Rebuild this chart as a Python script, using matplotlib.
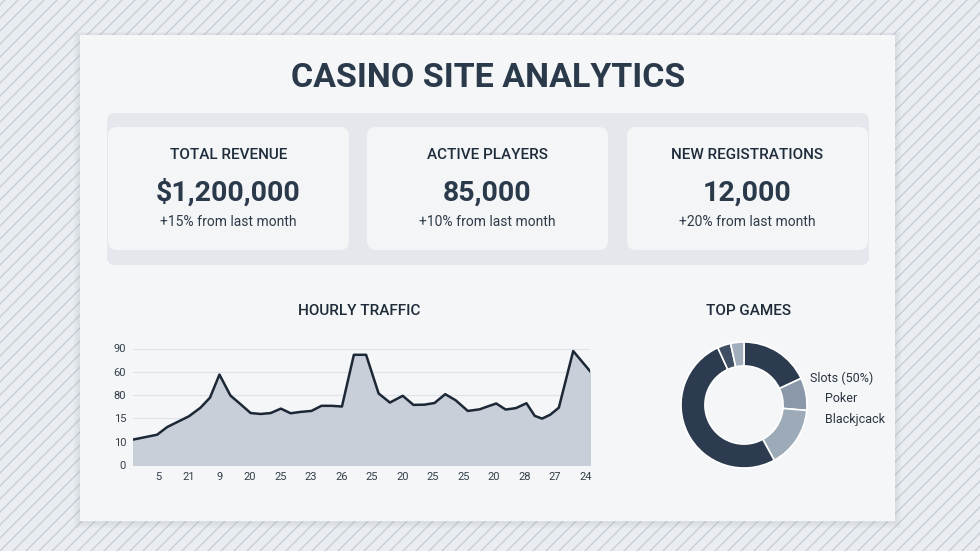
import matplotlib.pyplot as plt
from matplotlib.patches import FancyBboxPatch, Rectangle

plt.rcParams['font.family'] = ['Roboto', 'DejaVu Sans']

# ---- data ----
kpi_titles = ['TOTAL REVENUE', 'ACTIVE PLAYERS', 'NEW REGISTRATIONS']
kpi_values = ['$1,200,000', '85,000', '12,000']
kpi_changes = ['+15% from last month', '+10% from last month', '+20% from last month']

# traffic (x in tick units, y in grid-step units)
traffic_x = [0.18, 0.97, 1.30, 2.01, 2.39, 2.70, 3.01, 3.37, 3.70, 4.03, 4.36, 4.69,
             5.02, 5.34, 5.67, 6.02, 6.35, 6.68, 7.02, 7.41, 7.81, 8.22, 8.59, 9.01,
             9.36, 9.72, 10.05, 10.40, 10.74, 11.14, 11.53, 11.74, 12.07, 12.38,
             12.71, 13.06, 13.33, 13.57, 13.84, 14.12, 14.59, 15.14]
traffic_y = [1.09, 1.30, 1.63, 2.09, 2.46, 2.89, 3.88, 2.98, 2.61, 2.23, 2.19, 2.23,
             2.42, 2.22, 2.28, 2.32, 2.54, 2.54, 2.51, 4.73, 4.73, 3.07, 2.68, 2.97,
             2.58, 2.59, 2.66, 3.04, 2.78, 2.32, 2.39, 2.49, 2.64, 2.38, 2.44, 2.65,
             2.11, 1.99, 2.16, 2.46, 4.89, 4.03]
x_ticklabels = ['5', '21', '9', '20', '25', '23', '26', '25', '20', '25', '25', '20', '28', '27', '24']
y_ticklabels = ['0', '10', '15', '80', '60', '90']

game_shares = [18, 8.3, 15.6, 51, 3.4, 3.4]
game_colors = ['#2c3b4f', '#8a98a9', '#9dabb9', '#2c3b4f', '#3f4e62', '#a2aebb']
game_labels = ['Slots (50%)', 'Poker', 'Blackjcack']

W, H = 980, 551
fig = plt.figure(figsize=(W / 100, H / 100), dpi=100)

# ---- background / card (pixel coords) ----
bg = fig.add_axes([0, 0, 1, 1])
bg.set_xlim(0, W)
bg.set_ylim(H, 0)
bg.axis('off')
bg.add_patch(Rectangle((0, 0), W, H, color='#e9ecf0', zorder=0))
for k in range(-60, 90):
    x0 = k * 13
    bg.plot([x0, x0 + H], [H, 0], color='#c7ccd4', lw=0.9, zorder=1)

# shadow + card
for i, a in enumerate([0.05, 0.05, 0.05]):
    bg.add_patch(Rectangle((80 - 2 - i * 2, 35 - 1 - i), 815 + 4 + i * 4, 486 + 4 + i * 3,
                           color='#8a94a0', alpha=a, lw=0, zorder=2))
bg.add_patch(Rectangle((80, 35), 815, 486, color='#f4f6f8', lw=0, zorder=3))

bg.text(488, 78, 'CASINO SITE ANALYTICS', ha='center', va='center', fontsize=24.5,
        fontweight='bold', color='#2b3a4b', zorder=5)

# KPI panel
bg.add_patch(FancyBboxPatch((107, 113), 762, 152, boxstyle='round,pad=0,rounding_size=8',
                            fc='#e4e8ec', ec='none', zorder=4))
card_x = [108, 367, 627]
for i in range(3):
    bg.add_patch(FancyBboxPatch((card_x[i], 127), 241, 123,
                                boxstyle='round,pad=0,rounding_size=9',
                                fc='#f3f5f7', ec='none', zorder=5))
    cx = card_x[i] + 120.5
    bg.text(cx, 155, kpi_titles[i], ha='center', va='center', fontsize=11,
            fontweight='medium', color='#1f2c3b', zorder=6)
    bg.text(cx, 193, kpi_values[i], ha='center', va='center', fontsize=20.5,
            fontweight='bold', color='#2b3a4b', zorder=6)
    bg.text(cx, 222, kpi_changes[i], ha='center', va='center', fontsize=10,
            color='#2f3b48', zorder=6)

bg.text(359, 311, 'HOURLY TRAFFIC', ha='center', va='center', fontsize=11,
        fontweight='medium', color='#1f2b38', zorder=6)
bg.text(749, 311, 'TOP GAMES', ha='center', va='center', fontsize=11,
        fontweight='medium', color='#1f2b38', zorder=6)

label_pos = [(810, 378), (825, 399), (825, 420)]
for lab, (lx, ly) in zip(game_labels, label_pos):
    bg.text(lx, ly, lab, ha='left', va='center', fontsize=9, color='#2b3440', zorder=6)

# ---- hourly traffic ----
ax = fig.add_axes([133 / W, (H - 465) / H, (590 - 133) / W, 5.1 * 23.3 / H])
ax.set_facecolor('none')
ax.fill_between(traffic_x, traffic_y, 0, color='#c8cfd8', zorder=2)
ax.plot(traffic_x, traffic_y, color='#1c2836', lw=1.8, zorder=3)
ax.set_xlim(traffic_x[0], traffic_x[-1])
ax.set_ylim(0, 5.1)
ax.set_yticks(range(len(y_ticklabels)))
ax.set_yticklabels(y_ticklabels)
ax.set_xticks(range(1, len(x_ticklabels) + 1))
ax.set_xticklabels(x_ticklabels)
ax.tick_params(length=0, labelsize=8, colors='#333d48', pad=5)
ax.grid(axis='y', color='#dfe3e8', lw=0.8, zorder=1)
for s in ax.spines.values():
    s.set_visible(False)

# ---- top games donut ----
r = 63
pax = fig.add_axes([(744 - r) / W, (H - 405 - r) / H, 2 * r / W, 2 * r / H])
pax.pie(game_shares, colors=game_colors, startangle=90, counterclock=False,
        wedgeprops=dict(width=0.38, edgecolor='white', linewidth=1.2))
pax.set_xlim(-1, 1)
pax.set_ylim(-1, 1)
pax.set_aspect('equal')

fig.savefig('out.png', dpi=100)
